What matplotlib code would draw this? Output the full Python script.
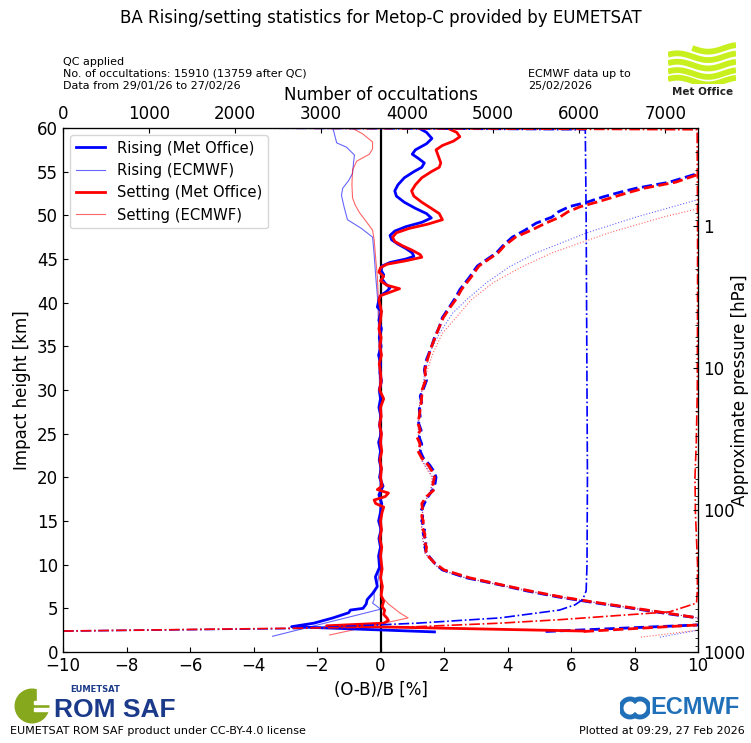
import numpy as np
import matplotlib
matplotlib.use("Agg")
import matplotlib.pyplot as plt
from matplotlib.ticker import LogLocator, NullFormatter, FixedLocator, FixedFormatter
from matplotlib.patches import Circle, Rectangle, Arc

plt.rcParams['font.family'] = ['DejaVu Sans']

# ---------------- data ----------------
# Rising, Met Office mean (O-B)/B [%]
z_rise_mo = [2.3, 2.9, 3.3, 3.9, 4.5, 4.8, 5.0, 5.5, 6.0, 6.7, 7.5, 8.6, 9.7, 11, 12, 13, 14, 15, 16, 17, 18,
             19, 20, 21, 22, 23, 24, 25, 26, 27, 28, 29, 30, 31, 32, 33, 34, 35, 36, 37, 38, 39, 39.5, 40.3,
             40.8, 41.3, 41.7, 42.2, 42.7, 43.2, 43.7, 44.2, 44.6, 45.0, 45.3, 45.7, 46.2, 46.7, 47.2, 47.7,
             48.2, 48.7, 49.2, 49.7, 50.2, 50.8, 51.5, 52.2, 52.8, 53.5, 54.3, 55.0, 55.5, 56.0, 56.5, 57.0,
             57.5, 58.2, 58.8, 59.5, 60.0]
rise_mo = [1.7, -2.8, -2.1, -1.5, -1.0, -0.95, -0.55, -0.45, -0.42, -0.25, -0.1, -0.16, -0.03, -0.06, 0.0,
           -0.05, 0.02, -0.06, 0.0, 0.04, -0.05, 0.08, -0.03, 0.02, -0.04, 0.0, -0.06, 0.02, -0.03, 0.01,
           -0.05, 0.0, -0.04, 0.03, -0.02, 0.0, -0.06, 0.02, -0.04, 0.03, -0.05, 0.02, -0.1, -0.05,
           0.0, 0.2, 0.3, 0.15, 0.05, 0.1, 0.02, 0.05, 0.3, 0.8, 1.05, 1.0, 0.8, 0.55, 0.35, 0.3,
           0.45, 0.8, 1.3, 1.6, 1.45, 1.1, 0.75, 0.5, 0.45, 0.55, 0.75, 1.05, 1.3, 1.38, 1.2, 1.0,
           1.1, 1.45, 1.62, 1.45, 1.2]

# Setting, Met Office mean
z_set_mo = [2.4, 3.0, 3.3, 3.6, 3.9, 4.3, 4.8, 5.2, 5.8, 6.5, 7.5, 8.5, 9.5, 11, 12, 13, 14, 15, 16, 16.6,
            17.0, 17.4, 17.8, 18.2, 18.6, 19, 20, 21, 22, 23, 24, 25, 26, 27, 28, 29, 30, 31, 32, 33, 34,
            35, 36, 37, 38, 39, 40.3, 40.8, 41.2, 41.6, 42.0, 42.5, 43.0, 43.5, 44.0, 44.4, 44.8, 45.2,
            45.5, 46.0, 46.5, 47.0, 47.5, 48.0, 48.5, 49.0, 49.5, 50.2, 50.8, 51.5, 52.2, 52.8, 53.5, 54.3,
            55.0, 55.5, 56.0, 56.5, 57.0, 57.5, 58.0, 58.5, 59.0, 59.5, 60.0]
set_mo = [6.4, -1.7, 0.1, 0.25, 0.2, 0.1, 0.13, 0.05, 0.1, 0.02, 0.06, 0.0, 0.05, 0.0, 0.04, -0.02, 0.03, 0.0,
          0.05, 0.1, -0.15, -0.2, 0.15, 0.25, -0.1, 0.05, 0.0, 0.03, -0.02, 0.04, 0.0, 0.03, -0.03, 0.02,
          0.0, 0.1, -0.03, 0.02, 0.0, -0.04, 0.03, -0.02, 0.02, -0.05, 0.0, 0.03, -0.05, 0.0, 0.3, 0.6,
          0.2, 0.0, 0.1, -0.05, 0.0, 0.2, 0.8, 1.3, 1.25, 1.0, 0.7, 0.45, 0.38, 0.5, 0.9, 1.5, 1.95, 1.85,
          1.6, 1.3, 1.05, 0.98, 1.1, 1.3, 1.6, 1.85, 1.9, 1.85, 1.8, 1.75, 1.95, 2.3, 2.5, 2.4, 2.1]

# ECMWF means
z_rise_ec = [1.8, 4.9, 5.2, 5.6, 6.0, 6.7, 7.5, 9, 12, 15, 20, 25, 30, 35, 40, 43, 45.5, 47.5, 48.5, 49.5,
             51.0, 52.3, 53.1, 54.0, 54.8, 56.0, 56.9, 57.8, 58.3, 60.0]
rise_ec = [-3.4, 0.0, -0.1, -0.25, -0.2, -0.2, -0.1, -0.05, -0.03, -0.02, -0.02, -0.03, -0.03, -0.05, -0.08,
           -0.15, -0.2, -0.25, -0.6, -1.04, -1.15, -1.23, -1.19, -1.0, -0.88, -0.85, -0.82, -1.07, -1.38, -1.5]
z_set_ec = [1.95, 3.9, 4.5, 5.5, 6.5, 7.5, 9, 12, 15, 20, 25, 30, 35, 40, 43, 45, 47.2, 48.3, 49.3, 50.3,
            51.2, 52.0, 53.5, 55.2, 56.2, 57.0, 57.6, 58.4, 59.3, 60.0]
set_ec = [-1.6, 0.87, 0.6, 0.25, 0.0, 0.02, 0.0, 0.0, 0.02, 0.0, -0.02, -0.02, -0.04, -0.06, -0.1, -0.15,
          -0.2, -0.25, -0.45, -0.66, -0.8, -0.88, -0.9, -0.88, -0.75, -0.35, -0.25, -0.25, -0.55, -0.9]

# Standard deviations (Met Office)
z_std_mo = [3.1, 3.3, 3.6, 3.9, 4.3, 4.8, 5.5, 6.3, 7.0, 7.7, 8.5, 9.4, 10.2, 11.3, 12.0, 12.8, 13.5, 14.2,
            15.0, 15.5, 16.2, 17.0, 17.8, 18.6, 19.3, 20.0, 20.7, 21.4, 22.2, 23.0, 23.8, 24.6, 25.4, 26.2,
            27.0, 27.8, 28.5, 29.3, 30.1, 31.1, 32.3, 33.5, 34.9, 36.0, 37.2, 38.3, 39.5, 40.5, 41.5, 42.9,
            44.2, 45.7, 46.5, 47.5, 48.3, 49.1, 49.8, 50.4, 51.0, 51.5, 52.1, 52.6, 53.1, 53.8, 54.8, 56.0,
            58.0, 60.0]
std_rise_mo = [10.0, 12, 11, 10.0, 9.2, 8.3, 7.0, 5.6, 4.6, 3.75, 2.7, 1.95, 1.7, 1.45, 1.4, 1.45, 1.35, 1.4,
               1.3, 1.33, 1.28, 1.38, 1.5, 1.65, 1.72, 1.75, 1.68, 1.55, 1.35, 1.25, 1.3, 1.22, 1.28, 1.2,
               1.25, 1.22, 1.3, 1.25, 1.35, 1.45, 1.38, 1.45, 1.6, 1.7, 1.85, 1.95, 2.17, 2.35, 2.5, 2.8,
               3.05, 3.65, 3.85, 4.15, 4.55, 4.9, 5.4, 5.6, 5.95, 6.5, 7.0, 7.5, 8.05, 9.1, 10.0, 11.5,
               13, 14]
std_set_mo = [10.0, 12, 11, 10.0, 9.3, 8.4, 7.1, 5.7, 4.7, 3.8, 2.8, 2.0, 1.7, 1.42, 1.45, 1.38, 1.4, 1.32,
              1.35, 1.3, 1.33, 1.3, 1.45, 1.7, 1.65, 1.7, 1.62, 1.5, 1.3, 1.18, 1.25, 1.15, 1.25, 1.18,
              1.22, 1.25, 1.28, 1.3, 1.32, 1.42, 1.4, 1.48, 1.6, 1.72, 1.85, 1.98, 2.2, 2.4, 2.55, 2.85,
              3.1, 3.7, 3.9, 4.25, 4.75, 5.2, 5.65, 5.9, 6.3, 6.8, 7.35, 7.8, 8.3, 9.3, 10.1, 11.6,
              13, 14]
z_std_bot = [2.35, 3.1]
std_rise_bot = [5.2, 10.0]
std_set_bot = [6.4, 10.0]

# Standard deviations (ECMWF)
z_std_ec = [1.7, 2.5, 3.0, 3.9, 4.8, 5.5, 6.3, 7.0, 7.7, 8.5, 9.4, 10.2, 11.3, 13, 15, 17, 18.6, 20, 22, 24,
            26, 28, 30.3, 32, 34.2, 36.5, 38.8, 40.3, 42.3, 44.1, 45.7, 48.0, 49.8, 51.8, 54, 57, 60]
std_rise_ec = [8.8, 10, 12, 10, 8.3, 7.0, 5.6, 4.6, 3.7, 2.65, 1.9, 1.65, 1.42, 1.33, 1.28, 1.38, 1.6, 1.65,
               1.3, 1.22, 1.2, 1.22, 1.32, 1.4, 1.54, 1.86, 2.27, 2.7, 3.34, 4.06, 4.9, 6.5, 8.05, 10,
               12.5, 15, 17]
std_set_ec = [8.2, 10, 12, 10, 8.4, 7.1, 5.7, 4.7, 3.75, 2.7, 1.95, 1.65, 1.4, 1.33, 1.28, 1.36, 1.58, 1.62,
              1.28, 1.2, 1.18, 1.22, 1.32, 1.45, 1.65, 1.95, 2.5, 2.85, 3.55, 4.45, 5.4, 7.2, 8.9, 11.2,
              13.5, 16, 18]

# Number of occultations
z_cnt_rise = [2.4, 2.7, 3.3, 3.9, 4.8, 5.4, 6.0, 7.0, 10, 20, 30, 40, 50, 59.8, 60.0]
cnt_rise = [0, 2750, 4110, 5075, 5770, 5950, 6040, 6080, 6090, 6095, 6090, 6085, 6080, 6070, 2000]
z_cnt_set = [2.4, 2.9, 3.3, 3.7, 4.6, 5.6, 7.0, 10, 16, 20, 24, 30, 40, 50, 59.8, 60.0]
cnt_set = [0, 4110, 5075, 5772, 7050, 7363, 7372, 7375, 7350, 7345, 7360, 7372, 7375, 7375, 7370, 2000]

x_ticks = list(range(-10, 11, 2))
y_ticks = list(range(0, 61, 5))
cnt_ticks = list(range(0, 7001, 1000))
p_ticks = [1, 10, 100, 1000]
p_labels = ['1', '10', '100', '1000']

BLUE = '#0000ff'
RED = '#ff0000'

# ---------------- figure ----------------
W, H = 751, 743
fig = plt.figure(figsize=(W / 100, H / 100), dpi=100)
ax = fig.add_axes([63 / W, 91 / H, 635 / W, 524 / H])
ax.set_xlim(-10, 10)
ax.set_ylim(0, 60)
ax.set_xticks(x_ticks)
ax.set_yticks(y_ticks)
ax.tick_params(direction='in', labelsize=12)
ax.set_xlabel('(O-B)/B [%]', fontsize=12)
ax.set_ylabel('Impact height [km]', fontsize=12)

ax.axvline(0, color='k', lw=1.6, zorder=1)

# std lines
ax.plot(std_rise_ec, z_std_ec, color=BLUE, lw=0.8, ls=':', alpha=0.6)
ax.plot(std_set_ec, z_std_ec, color=RED, lw=0.8, ls=':', alpha=0.6)
ax.plot(std_rise_bot, z_std_bot, color=BLUE, lw=2, ls='--')
ax.plot(std_set_bot, z_std_bot, color=RED, lw=2, ls='--')
ax.plot(std_rise_mo, z_std_mo, color=BLUE, lw=2, ls='--')
ax.plot(std_set_mo, z_std_mo, color=RED, lw=2, ls='--')

# means
l2, = ax.plot(rise_ec, z_rise_ec, color=BLUE, lw=0.8, alpha=0.6)
l4, = ax.plot(set_ec, z_set_ec, color=RED, lw=0.8, alpha=0.6)
l1, = ax.plot(rise_mo, z_rise_mo, color=BLUE, lw=2)
l3, = ax.plot(set_mo, z_set_mo, color=RED, lw=2)

# top axis: number of occultations
axt = ax.twiny()
axt.set_xlim(0, 7380)
axt.set_xticks(cnt_ticks)
axt.tick_params(direction='in', labelsize=12)
axt.set_xlabel('Number of occultations', fontsize=12)
axt.plot(cnt_rise, z_cnt_rise, color=BLUE, lw=1.2, ls='-.')
axt.plot(cnt_set, z_cnt_set, color=RED, lw=1.2, ls='-.')
axt.set_ylim(0, 60)

# right axis: approximate pressure
axr = ax.twinx()
axr.set_yscale('log')
axr.set_ylim(1000, 0.203)
axr.yaxis.set_major_locator(FixedLocator(p_ticks))
axr.yaxis.set_major_formatter(FixedFormatter(p_labels))
axr.yaxis.set_minor_locator(LogLocator(base=10, subs=range(2, 10)))
axr.yaxis.set_minor_formatter(NullFormatter())
axr.tick_params(which='both', direction='in', labelsize=12)
axr.set_ylabel('Approximate pressure [hPa]', fontsize=12)
axr.yaxis.set_label_coords((731 - 63) / 635, 0.5)

leg = axr.legend([l1, l2, l3, l4],
                 ['Rising (Met Office)', 'Rising (ECMWF)', 'Setting (Met Office)', 'Setting (ECMWF)'],
                 loc='upper left', fontsize=10.6, labelspacing=0.5, borderaxespad=0.45)

# ---------------- header texts ----------------
fig.text(380.5 / W, 1 - 18 / H, 'BA Rising/setting statistics for Metop-C provided by EUMETSAT',
         ha='center', va='center', fontsize=12)
fig.text(63 / W, 1 - 62 / H, 'QC applied', fontsize=8, va='center')
fig.text(63 / W, 1 - 74 / H, 'No. of occultations: 15910 (13759 after QC)', fontsize=8, va='center')
fig.text(63 / W, 1 - 86 / H, 'Data from 29/01/26 to 27/02/26', fontsize=8, va='center')
fig.text(528 / W, 1 - 74 / H, 'ECMWF data up to', fontsize=8, va='center')
fig.text(528 / W, 1 - 86 / H, '25/02/2026', fontsize=8, va='center')

# footer
fig.text(10 / W, 1 - 731 / H, 'EUMETSAT ROM SAF product under CC-BY-4.0 license', fontsize=8, va='center')
fig.text(745 / W, 1 - 731 / H, 'Plotted at 09:29, 27 Feb 2026', fontsize=8, va='center', ha='right')

# ---------------- logos ----------------
# Met Office
axm = fig.add_axes([668 / W, 1 - 84 / H, 68 / W, 42 / H])
axm.set_xlim(0, 1)
axm.set_ylim(0, 1)
axm.axis('off')
xs = np.linspace(0, 1, 60)
for k, off in enumerate([0.85, 0.65, 0.45, 0.25, 0.07]):
    x0 = 0.35 if k == 0 else 0.0
    xx = xs[xs >= x0]
    axm.plot(xx, off + 0.08 * np.sin(2 * np.pi * (xx * 1.1 + 0.1)), color='#c8f01e', lw=4.2,
             solid_capstyle='butt')
fig.text(703 / W, 1 - 92 / H, 'Met Office', fontsize=7.5, fontweight='bold', ha='center', va='center',
         color='#222222')

# ROM SAF
axs = fig.add_axes([12 / W, 1 - 726 / H, 40 / W, 40 / H])
axs.set_xlim(0, 1)
axs.set_ylim(0, 1)
axs.set_aspect('equal')
axs.axis('off')
axs.add_patch(Circle((0.5, 0.5), 0.42, color='#86a81c'))
axs.add_patch(Rectangle((0.55, 0.38), 0.45, 0.08, color='white'))
axs.add_patch(Rectangle((0.55, 0.54), 0.45, 0.08, color='white'))
axs.add_patch(Rectangle((0.62, 0.62), 0.4, 0.4, color='white'))
fig.text(70 / W, 1 - 690 / H, 'EUMETSAT', fontsize=6, fontweight='bold', color='#1b3a8a', va='center')
fig.text(54 / W, 1 - 710 / H, 'ROM SAF', fontsize=19, fontweight='bold', color='#1b3a8a', va='center',
         family='Liberation Sans')

# ECMWF
axe = fig.add_axes([620 / W, 1 - 720 / H, 30 / W, 24 / H])
axe.set_xlim(0, 1.25)
axe.set_ylim(0, 1)
axe.set_aspect('equal')
axe.axis('off')
axe.add_patch(Arc((0.42, 0.5), 0.75, 0.75, theta1=40, theta2=320, color='#1f70b8', lw=3.5))
axe.add_patch(Arc((0.83, 0.5), 0.75, 0.75, theta1=220, theta2=140, color='#1f70b8', lw=3.5))
fig.text(650 / W, 1 - 708 / H, 'ECMWF', fontsize=17, fontweight='bold', color='#1f70b8', va='center',
         family='Liberation Sans')

fig.savefig('out.png', dpi=100)
